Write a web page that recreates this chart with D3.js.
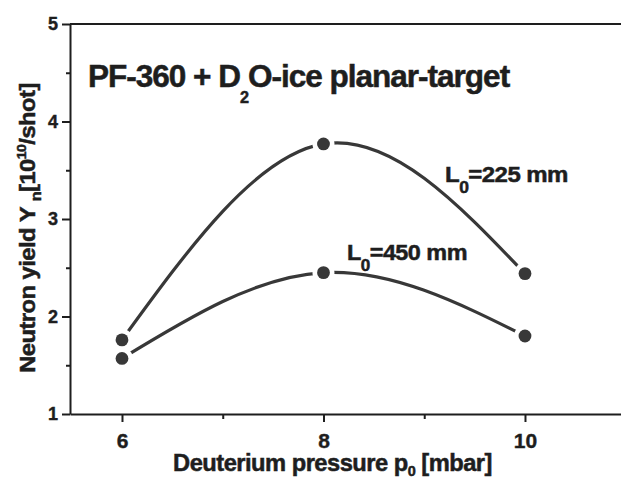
<!DOCTYPE html>
<html><head><meta charset="utf-8">
<script src="https://cdn.jsdelivr.net/npm/d3@7"></script>
<style>body{margin:0;background:#fff}</style>
</head><body>
<svg id="c" width="621" height="479"></svg>
<script>
const pressures = [6, 8, 10];
const yieldL225 = [1.76, 3.77, 2.44];
const yieldL450 = [1.57, 2.45, 1.80];
const xTicks = [6, 8, 10];
const xMinorTicks = [7, 9];
const yTicks = [1, 2, 3, 4, 5];
const yMinorTicks = [1.5, 2.5, 3.5, 4.5];
const seriesLabels = ["225", "450"];

const ink = '#1e1e1e';
const lineInk = '#383838';
const font = '"Liberation Sans", Arial, Helvetica, sans-serif';

const svg = d3.select('#c').style('font-family', font);
svg.append('rect').attr('width', 621).attr('height', 479).attr('fill', '#fff');

const x = d3.scaleLinear().domain([5.484, 10.953]).range([70, 621]);
const y = d3.scaleLinear().domain([1, 5]).range([414, 24]);

// axes
const yAx = svg.append('g').attr('transform', `translate(${x.range()[0]},0)`)
  .call(d3.axisLeft(y).tickValues(yTicks).tickSize(8).tickPadding(4).tickSizeOuter(0).tickFormat(d3.format('d')));
const yMin = svg.append('g').attr('transform', `translate(${x.range()[0]},0)`)
  .call(d3.axisLeft(y).tickValues(yMinorTicks).tickSize(4).tickSizeOuter(0).tickFormat(''));
yMin.select('.domain').remove();

const xAx = svg.append('g').attr('transform', `translate(0,${y.range()[0]})`)
  .call(d3.axisBottom(x).tickValues(xTicks).tickSize(8).tickPadding(11).tickSizeOuter(0).tickFormat(d3.format('d')));
const xMin = svg.append('g').attr('transform', `translate(0,${y.range()[0]})`)
  .call(d3.axisBottom(x).tickValues(xMinorTicks).tickSize(5).tickSizeOuter(0).tickFormat(''));
xMin.select('.domain').remove();

svg.append('line')
  .attr('x1', x.range()[0]).attr('x2', x.range()[1])
  .attr('y1', y(5)).attr('y2', y(5))
  .attr('stroke', ink).attr('stroke-width', 2);

[yAx, yMin, xAx, xMin].forEach(g => {
  g.selectAll('path, line').attr('stroke', ink).attr('stroke-width', 2);
  g.selectAll('text').attr('fill', ink).attr('font-weight', 'bold').attr('font-family', font)
    .attr('stroke', ink).attr('stroke-width', 0.4);
});
yAx.selectAll('text').attr('font-size', 18);
xAx.selectAll('text').attr('font-size', 21);

// curves
const series = [yieldL225, yieldL450];
const line = d3.line().x((d, i) => x(pressures[i])).y(d => y(d)).curve(d3.curveNatural);
series.forEach(s => {
  svg.append('path').attr('d', line(s)).attr('fill', 'none')
    .attr('stroke', lineInk).attr('stroke-width', 3.2);
});
series.forEach(s => {
  svg.selectAll(null).data(s).enter().append('circle')
    .attr('cx', (d, i) => x(pressures[i])).attr('cy', d => y(d)).attr('r', 11).attr('fill', '#fff');
});
series.forEach(s => {
  svg.selectAll(null).data(s).enter().append('circle')
    .attr('cx', (d, i) => x(pressures[i])).attr('cy', d => y(d)).attr('r', 6.4).attr('fill', lineInk);
});

// rich text helper
function richText(o) {
  const g = svg.append('g').attr('transform', `translate(${o.x},${o.y}) rotate(${o.rotate || 0})`);
  const t = g.append('text').attr('font-size', o.size).attr('font-weight', 'bold')
    .attr('fill', ink).attr('stroke', ink).attr('stroke-width', 0.5)
    .attr('text-anchor', o.anchor || 'start')
    .attr('letter-spacing', o.spacing || 0);
  let cur = 0;
  o.parts.forEach(p => {
    const [str, off, sz] = p;
    const target = off || 0;
    const ts = t.append('tspan').text(str).attr('dy', target - cur);
    cur = target;
    if (sz) ts.attr('font-size', sz);
  });
  if (o.width) {
    const w = t.node().getBBox().width;
    t.attr('transform', `scale(${o.width / w},1)`);
  }
  return t;
}

richText({x: 88, y: 87, size: 31, width: 422, spacing: -1,
  parts: [['PF-360 + D'], ['2', 16, 16], ['O-ice planar-target', 0]]});

richText({x: 35, y: 228, rotate: -90, anchor: 'middle', size: 22, width: 290, spacing: -0.5,
  parts: [['Neutron yield Y '], ['n', 6, 15], ['[10', 0], ['10', -9, 13], ['/shot]', 0]]});

richText({x: 332.5, y: 471, anchor: 'middle', size: 23, width: 319, spacing: -0.5,
  parts: [['Deuterium pressure p'], ['0', 5, 14], [' [mbar]', 0]]});

richText({x: 445, y: 182, size: 22, width: 123, spacing: -0.5,
  parts: [['L'], ['0', 11, 16], ['=' + seriesLabels[0] + ' mm', 0]]});

richText({x: 347, y: 260, size: 22, width: 120, spacing: -0.5,
  parts: [['L'], ['0', 11, 16], ['=' + seriesLabels[1] + ' mm', 0]]});
</script>
</body></html>
